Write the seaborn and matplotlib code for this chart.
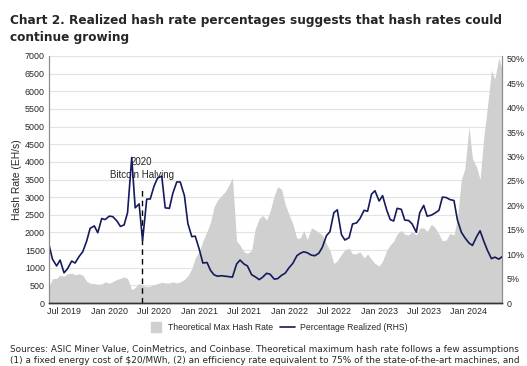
import numpy as np
import pandas as pd
import matplotlib
matplotlib.use('Agg')
import matplotlib.pyplot as plt
import matplotlib.dates as mdates
from matplotlib import font_manager
from matplotlib.lines import Line2D
import seaborn as sns


# Datas semi-mensais (dia 1 e 15) de mai/2019 a mai/2024
dates = pd.date_range('2019-05-01', periods=122, freq='SMS')

# Percentual realizado (eixo da direita, em %)
pct_realized = [
    11.9, 9.0, 7.6, 8.8, 6.2, 7.0, 8.6, 8.2, 9.6, 10.5,
    12.7, 15.3, 15.8, 14.4, 17.3, 17.1, 17.8, 17.7, 16.8, 15.7,
    16.0, 18.5, 29.8, 19.5, 20.3, 12.8, 21.3, 21.3, 24.0, 25.6,
    26.0, 19.5, 19.4, 22.5, 24.8, 24.8, 22.0, 16.3, 13.6, 13.7,
    10.9, 8.2, 8.3, 6.7, 5.8, 5.5, 5.6, 5.5, 5.4, 5.3,
    8.0, 8.8, 8.0, 7.6, 5.8, 5.4, 4.8, 5.3, 6.1, 5.9,
    4.9, 5.0, 5.7, 6.1, 7.3, 8.1, 9.7, 10.2, 10.5, 10.3,
    9.8, 9.7, 10.2, 11.4, 13.8, 14.6, 18.5, 19.1, 14.0, 12.9,
    13.4, 16.2, 16.4, 17.3, 19.0, 18.8, 22.3, 23.0, 20.9, 22.0,
    19.0, 17.1, 16.8, 19.4, 19.2, 17.0, 16.9, 16.2, 14.5, 18.5,
    20.0, 17.8, 18.0, 18.4, 19.0, 21.7, 21.6, 21.2, 21.0, 17.0,
    14.5, 13.4, 12.3, 11.8, 13.6, 14.8, 12.7, 10.9, 9.1, 9.4,
    9.0, 9.5,
]

# Hash rate maximo teorico (eixo da esquerda, EH/s)
max_hash = [
    460, 690, 700, 790, 760, 830, 850, 800, 830, 790,
    620, 560, 550, 530, 540, 600, 560, 610, 670, 700,
    740, 700, 380, 440, 560, 500, 470, 480, 520, 555,
    590, 570, 570, 600, 570, 600, 670, 770, 980, 1280,
    1470, 1760, 2030, 2290, 2720, 2910, 3050, 3150, 3350, 3550,
    1760, 1640, 1450, 1410, 1490, 2090, 2400, 2480, 2350, 2600,
    3050, 3300, 3220, 2800, 2490, 2250, 1830, 1850, 2050, 1800,
    2130, 2080, 2000, 1930, 1680, 1500, 1120, 1200, 1380, 1510,
    1550, 1390, 1400, 1450, 1280, 1390, 1240, 1120, 1050, 1190,
    1500, 1650, 1750, 1960, 2060, 1950, 1930, 2030, 1930, 2120,
    2130, 2030, 2230, 2150, 1950, 1760, 1790, 1970, 1930, 2400,
    3500, 3800, 5000, 4100, 3850, 3500, 4700, 5500, 6600, 6350,
    6950, 6600,
]

left_ticks = list(range(0, 7001, 500))
right_ticks = list(range(0, 51, 5))
xtick_dates = pd.date_range('2019-07-01', '2024-01-01', freq='6MS')
halving_date = pd.Timestamp('2020-05-11')

df = pd.DataFrame({'date': dates, 'pct': pct_realized, 'hash': max_hash})

sns.set_style('white')
installed = {f.name for f in font_manager.fontManager.ttflist}
narrow = 'Liberation Sans Narrow' if 'Liberation Sans Narrow' in installed else 'Liberation Sans'
plt.rcParams['font.family'] = [narrow, 'DejaVu Sans']
small = 7.2 if narrow == 'Liberation Sans Narrow' else 6.4

GRAY = '#d0d0d0'
NAVY = '#151a5c'

fig = plt.figure(figsize=(5.27, 3.66), dpi=100)
ax = fig.add_axes([0.093, 0.172, 0.860, 0.675])
ax2 = ax.twinx()

# area cinza (eixo esquerdo)
ax.fill_between(df['date'], 0, df['hash'], color=GRAY, linewidth=0, zorder=2)
ax.set_ylim(0, 7000)
ax.set_yticks(left_ticks)
ax.yaxis.grid(True, color='#e3e3e3', linewidth=0.8, zorder=0)
ax.set_axisbelow(True)
ax.set_ylabel('Hash Rate (EH/s)', fontsize=small + 1.0, labelpad=2)
ax.set_xlim(dates[0], dates[-1])
ax.set_xticks(xtick_dates)
ax.xaxis.set_major_formatter(mdates.DateFormatter('%b %Y'))
ax.tick_params(axis='both', labelsize=small, length=0, pad=3)

# linha do halving
ax.vlines(halving_date, 0, 3200, colors='black', linestyles=(0, (4, 3)), linewidth=1, zorder=3)
ax.text(halving_date, 3990, '2020', ha='center', va='center', fontsize=small + 0.6, zorder=4)
ax.text(halving_date, 3620, 'Bitcoin Halving', ha='center', va='center', fontsize=small + 0.6, zorder=4)

# linha do percentual (eixo direito)
sns.lineplot(data=df, x='date', y='pct', ax=ax2, color=NAVY, linewidth=1.2, legend=False)
ax2.set_ylim(0, 50.6)
ax2.set_yticks(right_ticks)
ax2.set_yticklabels(['0'] + [f'{v}%' for v in right_ticks[1:]])
ax2.set_ylabel('')
ax2.set_xlabel('')
ax2.tick_params(axis='y', labelsize=small, length=0, pad=3)
ax.set_xlabel('')

for a in (ax, ax2):
    a.spines['top'].set_visible(False)
    a.spines['left'].set_color('#8c8c8c')
    a.spines['right'].set_color('#8c8c8c')
    a.spines['bottom'].set_color('#333333')
    a.spines['left'].set_linewidth(0.8)
    a.spines['right'].set_linewidth(0.8)
    a.spines['bottom'].set_linewidth(1.0)

handles = [
    Line2D([], [], marker='s', color=GRAY, linestyle='none', markersize=6.5),
    Line2D([], [], color=NAVY, linewidth=1.2),
]
fig.legend(handles, ['Theoretical Max Hash Rate', 'Percentage Realized (RHS)'],
           loc='center', bbox_to_anchor=(0.527, 0.106), ncol=2, frameon=False,
           fontsize=small - 0.2, handlelength=1.8, columnspacing=0.8, handletextpad=0.5)

fig.text(0.019, 0.921, 'Chart 2. Realized hash rate percentages suggests that hash rates could\ncontinue growing',
         family='DejaVu Sans', fontweight='bold', fontsize=8.7, va='center', ha='left', linespacing=1.36)

fig.text(0.019, 0.044, 'Sources: ASIC Miner Value, CoinMetrics, and Coinbase. Theoretical maximum hash rate follows a few assumptions',
         family='DejaVu Sans', fontsize=6.4, va='center', ha='left')
fig.text(0.019, 0.004, '(1) a fixed energy cost of $20/MWh, (2) an efficiency rate equivalent to 75% of the state-of-the-art machines, and',
         family='DejaVu Sans', fontsize=6.4, va='bottom', ha='left')

fig.savefig('out.png', dpi=100)
